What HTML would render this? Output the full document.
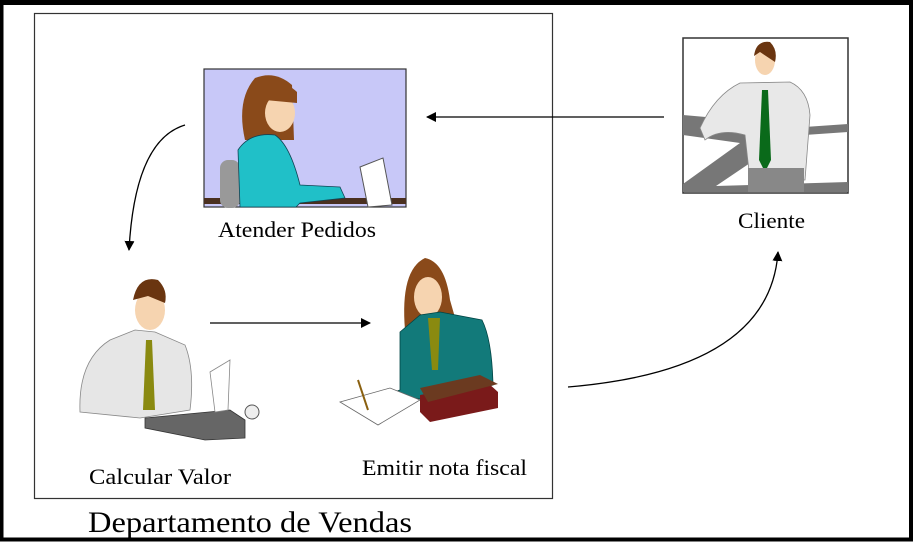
<!DOCTYPE html>
<html><head><meta charset="utf-8"><style>
html,body{margin:0;padding:0;background:#fff}
svg{display:block}
text{font-family:"Liberation Serif",serif;fill:#000}
</style></head><body>
<svg width="913" height="542" viewBox="0 0 913 542" xmlns="http://www.w3.org/2000/svg">
<defs><marker id="a" markerWidth="10" markerHeight="10" refX="9" refY="5" orient="auto" markerUnits="userSpaceOnUse"><path d="M0,0 L10,5 L0,10 Z" fill="#000"/></marker></defs>
<rect x="0" y="0" width="913" height="542" fill="#fff"/>
<rect x="1.5" y="3" width="909.5" height="536.5" fill="none" stroke="#000" stroke-width="4"/>
<rect x="0" y="0" width="913" height="4" fill="#000"/>
<rect x="34.5" y="13.5" width="518" height="485" fill="none" stroke="#333" stroke-width="1.2"/>

<!-- Atender pedidos box -->
<rect x="204" y="69" width="202" height="138" fill="#c8c8f8" stroke="#333" stroke-width="1.2"/>
<rect x="204" y="198" width="202" height="6" fill="#4a3020"/>
<rect x="220" y="160" width="20" height="48" rx="8" fill="#999"/>
<path d="M245,140 Q236,100 255,78 Q275,70 292,85 L294,140 Z" fill="#8a4a1a"/>
<ellipse cx="280" cy="113" rx="15" ry="19" fill="#f6d4b0"/>
<path d="M262,88 Q280,76 297,92 L297,103 L265,100 Z" fill="#8a4a1a"/>
<path d="M240,207 L238,150 Q250,132 275,135 Q290,145 300,185 L340,187 L345,198 L300,203 L296,207 Z" fill="#20c0c8" stroke="#145" stroke-width="0.8"/>
<path d="M360,167 L383,158 L392,205 L368,207 Z" fill="#fff" stroke="#555" stroke-width="1"/>

<!-- Cliente box -->
<rect x="683" y="38" width="165" height="155" fill="#fff" stroke="#333" stroke-width="1.5"/>
<path d="M683,115 L740,120 L790,128 L848,124 L848,132 L790,136 L716,186 L848,182 L848,192 L683,192 L683,184 L740,143 L683,135 Z" fill="#777"/>
<path d="M700,128 Q715,95 740,83 L790,82 Q808,90 810,115 L805,180 L750,180 L745,135 Q720,128 705,140 Z" fill="#e8e8e8" stroke="#888" stroke-width="0.8"/>
<path d="M762,90 L768,90 L771,160 L765,172 L759,160 Z" fill="#0a6a1a"/>
<ellipse cx="765" cy="60" rx="10" ry="15" fill="#f6d4b0"/>
<path d="M754,56 Q756,40 770,42 Q778,50 775,62 L760,52 Z" fill="#6a3510"/>
<rect x="748" y="168" width="56" height="24" fill="#888"/>

<!-- Calcular valor figure -->
<path d="M80,412 Q78,360 110,340 L135,330 L155,332 L185,345 Q195,370 190,410 L140,418 Z" fill="#e6e6e6" stroke="#888" stroke-width="0.8"/>
<path d="M146,340 L152,340 L155,410 L143,410 Z" fill="#8a8a10"/>
<ellipse cx="150" cy="310" rx="15" ry="20" fill="#f6d4b0"/>
<path d="M133,300 Q138,275 158,280 Q168,290 165,303 L148,296 Z" fill="#6a3510"/>
<path d="M145,418 L230,410 L245,420 L245,438 L205,440 L145,428 Z" fill="#666" stroke="#333" stroke-width="0.8"/>
<path d="M210,372 L230,360 L228,410 L215,412 Z" fill="#fff" stroke="#888" stroke-width="0.8"/>
<circle cx="252" cy="412" r="7" fill="#eee" stroke="#555"/>

<!-- Emitir nota fiscal figure -->
<path d="M405,330 Q400,270 425,258 Q445,262 450,300 L460,335 Z" fill="#8a4a1a"/>
<ellipse cx="428" cy="297" rx="14" ry="20" fill="#f6d4b0"/>
<path d="M400,390 L400,332 L420,315 L440,312 L482,320 Q492,340 493,385 L430,400 L385,395 Z" fill="#127a7a" stroke="#044" stroke-width="0.8"/>
<path d="M428,318 L440,318 L438,370 L432,370 Z" fill="#8a8a10"/>
<path d="M340,402 L390,388 L420,400 L378,425 Z" fill="#fff" stroke="#666" stroke-width="0.8"/>
<path d="M420,395 L488,383 L498,392 L498,408 L430,422 L420,412 Z" fill="#7a1a1a"/>
<path d="M420,388 L480,375 L498,384 L428,402 Z" fill="#6b3a20"/>
<line x1="358" y1="380" x2="368" y2="410" stroke="#8a6010" stroke-width="2"/>

<!-- Arrows -->
<line x1="664" y1="117" x2="427" y2="117" stroke="#000" stroke-width="1.3" marker-end="url(#a)"/>
<path d="M185,125 Q135,140 129,250" fill="none" stroke="#000" stroke-width="1.3" marker-end="url(#a)"/>
<line x1="210" y1="323" x2="370" y2="323" stroke="#000" stroke-width="1.3" marker-end="url(#a)"/>
<path d="M568,387 Q770,370 778,252" fill="none" stroke="#000" stroke-width="1.3" marker-end="url(#a)"/>

<!-- Labels -->
<text x="218" y="237" font-size="22" textLength="158" lengthAdjust="spacingAndGlyphs">Atender Pedidos</text>
<text x="738" y="228" font-size="22" textLength="67" lengthAdjust="spacingAndGlyphs">Cliente</text>
<text x="89" y="484" font-size="22" textLength="142" lengthAdjust="spacingAndGlyphs">Calcular Valor</text>
<text x="362" y="475" font-size="22" textLength="165" lengthAdjust="spacingAndGlyphs">Emitir nota fiscal</text>
<text x="88" y="532" font-size="30" textLength="324" lengthAdjust="spacingAndGlyphs">Departamento de Vendas</text>
</svg>
</body></html>
